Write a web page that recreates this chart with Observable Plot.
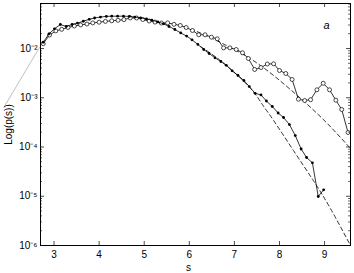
<!DOCTYPE html>
<html><head><meta charset="utf-8">
<script src="https://cdn.jsdelivr.net/npm/d3@7"></script>
<script src="https://cdn.jsdelivr.net/npm/@observablehq/plot@0.6"></script>
<style>body{margin:0;background:#fff} svg{display:block}</style>
</head><body><div id="chart"></div>
<script>
// filled dots series
const sFilled = [2.76,2.89,3.01,3.14,3.27,3.40,3.52,3.65,3.78,3.90,4.03,4.16,4.28,4.41,4.54,4.67,4.79,4.92,5.05,5.17,5.30,5.43,5.55,5.68,5.81,5.94,6.06,6.19,6.32,6.44,6.57,6.70,6.82,6.95,7.08,7.21,7.33,7.46,7.59,7.71,7.84,7.97,8.09,8.22,8.35,8.48,8.60,8.73,8.86,8.98];
const pFilled = [0.0134,0.0199,0.0251,0.0307,0.0280,0.0307,0.0328,0.0358,0.0392,0.0416,0.0434,0.0449,0.0453,0.0453,0.0453,0.0449,0.0434,0.0420,0.0397,0.0376,0.0347,0.0317,0.0280,0.0243,0.0207,0.0179,0.0150,0.0121,0.00954,0.00792,0.00648,0.00545,0.00456,0.00352,0.00283,0.00224,0.00169,0.00123,0.00114,0.000859,0.000664,0.000490,0.000397,0.000286,0.000171,0.0000911,0.0000612,0.0000478,0.00000988,0.0000135];
// open circles series
const sOpen = [2.76,2.90,3.04,3.17,3.31,3.45,3.59,3.73,3.86,4.00,4.14,4.28,4.42,4.55,4.69,4.83,4.97,5.11,5.24,5.38,5.52,5.66,5.80,5.93,6.07,6.21,6.35,6.49,6.62,6.76,6.90,7.04,7.18,7.31,7.45,7.59,7.73,7.87,8.00,8.14,8.28,8.42,8.56,8.69,8.83,8.97,9.11,9.25,9.38,9.52];
const pOpen = [0.0125,0.0188,0.0228,0.0245,0.0267,0.0286,0.0301,0.0314,0.0331,0.0342,0.0355,0.0365,0.0374,0.0386,0.0418,0.0416,0.0388,0.0362,0.0344,0.0329,0.0331,0.0310,0.0294,0.0267,0.0232,0.0190,0.0190,0.0170,0.0157,0.0103,0.0103,0.00954,0.00818,0.00627,0.00375,0.00411,0.00484,0.00489,0.00358,0.00311,0.00235,0.000934,0.000879,0.000913,0.00145,0.00197,0.00145,0.000892,0.000577,0.000197];
// dashed fit curves
const sFitA = [6.25,6.80,7.36,7.62,7.87,8.31,8.75,9.13,9.575];
const pFitA = [0.01098,0.00473,0.00154,0.000729,0.000345,0.0000849,0.0000209,0.00000564,0.000001];
const sFitB = [6.03,6.25,6.74,7.31,7.87,8.47,9.04,9.575];
const pFitB = [0.0243,0.0206,0.0126,0.00657,0.00283,0.000966,0.000314,0.0000932];
// stray annotation line
const sAnnot = [1.887, 2.678];
const pAnnot = [0.000634, 0.0105];
// ticks
const xTicks = [3,4,5,6,7,8,9];
const xTickLabels = ["3","4","5","6","7","8","9"];
const yTicks = [1e-6,1e-5,1e-4,1e-3,1e-2];
const yTickLabels = ["10\u207B\u2076","10\u207B\u2075","10\u207B\u2074","10\u207B\u00B3","10\u207B\u00B2"];
const xLabel = "s";
const yLabel = "Log(p(s))";
const panelLetter = "a";

const W = 354, H = 273, mL = 40, mR = 4, mT = 3, mB = 28;
const innerW = W - mL - mR, innerH = H - mT - mB;
const yMinor = [-6,-5,-4,-3,-2].flatMap(k => [2,3,4,5,6,7,8,9].map(m => m * 10 ** k)).filter(v => v < 0.082);

const filled = sFilled.map((s, i) => ({s, p: pFilled[i]}));
const open = sOpen.map((s, i) => ({s, p: pOpen[i]}));
const fitA = sFitA.map((s, i) => ({s, p: pFitA[i]}));
const fitB = sFitB.map((s, i) => ({s, p: pFitB[i]}));
const annot = sAnnot.map((s, i) => ({s, p: pAnnot[i]}));

const chart = Plot.plot({
  width: W, height: H,
  marginLeft: mL, marginRight: mR, marginTop: mT, marginBottom: mB,
  style: {fontFamily: "'Liberation Sans', Arial, sans-serif", fontSize: "10px", background: "#fff", color: "#000"},
  x: {domain: [2.7, 9.575]},
  y: {type: "log", domain: [1e-6, 0.082]},
  marks: [
    Plot.line(annot, {x: "s", y: "p", stroke: "#b0b0b0", strokeWidth: 0.8}),
    Plot.line(fitA, {x: "s", y: "p", stroke: "#000", strokeWidth: 0.8, strokeDasharray: "4,3", curve: "natural"}),
    Plot.line(fitB, {x: "s", y: "p", stroke: "#000", strokeWidth: 0.8, strokeDasharray: "4,3", curve: "natural"}),
    Plot.line(open, {x: "s", y: "p", stroke: "#000", strokeWidth: 0.8}),
    Plot.dot(open, {x: "s", y: "p", r: 2, stroke: "#000", fill: "#fff", strokeWidth: 0.7}),
    Plot.line(filled, {x: "s", y: "p", stroke: "#000", strokeWidth: 0.8}),
    Plot.dot(filled, {x: "s", y: "p", r: 1.4, fill: "#000", stroke: "none"}),
    Plot.frame({stroke: "#000", strokeWidth: 1}),
    Plot.tickY(yTicks, {y: d => d, insetRight: innerW - 4, stroke: "#000", strokeWidth: 0.7}),
    Plot.tickY(yTicks, {y: d => d, insetLeft: innerW - 4, stroke: "#000", strokeWidth: 0.7}),
    Plot.tickY(yMinor, {y: d => d, insetRight: innerW - 2, stroke: "#000", strokeWidth: 0.6}),
    Plot.tickY(yMinor, {y: d => d, insetLeft: innerW - 2, stroke: "#000", strokeWidth: 0.6}),
    Plot.tickX(xTicks, {x: d => d, insetTop: innerH - 4, stroke: "#000", strokeWidth: 0.7}),
    Plot.tickX(xTicks, {x: d => d, insetBottom: innerH - 4, stroke: "#000", strokeWidth: 0.7}),
    Plot.axisX({ticks: xTicks, tickSize: 0, tickPadding: 5, tickFormat: d => xTickLabels[xTicks.indexOf(d)], label: null}),
    Plot.axisY({ticks: yTicks, tickSize: 0, tickPadding: 3, tickFormat: d => yTickLabels[yTicks.indexOf(d)], label: null}),
    Plot.text([xLabel], {text: d => d, frameAnchor: "bottom", dy: 22, dx: -7, textAnchor: "middle", lineAnchor: "middle", fontSize: 10}),
    Plot.text([yLabel], {text: d => d, frameAnchor: "left", dx: -32, rotate: -90, textAnchor: "middle", lineAnchor: "middle", fontSize: 10}),
    Plot.text([panelLetter], {text: d => d, frameAnchor: "top-right", dx: -24, dy: 22, textAnchor: "middle", lineAnchor: "middle", fontSize: 11, fontStyle: "italic"})
  ]
});
document.getElementById("chart").appendChild(chart);
</script>
</body></html>
